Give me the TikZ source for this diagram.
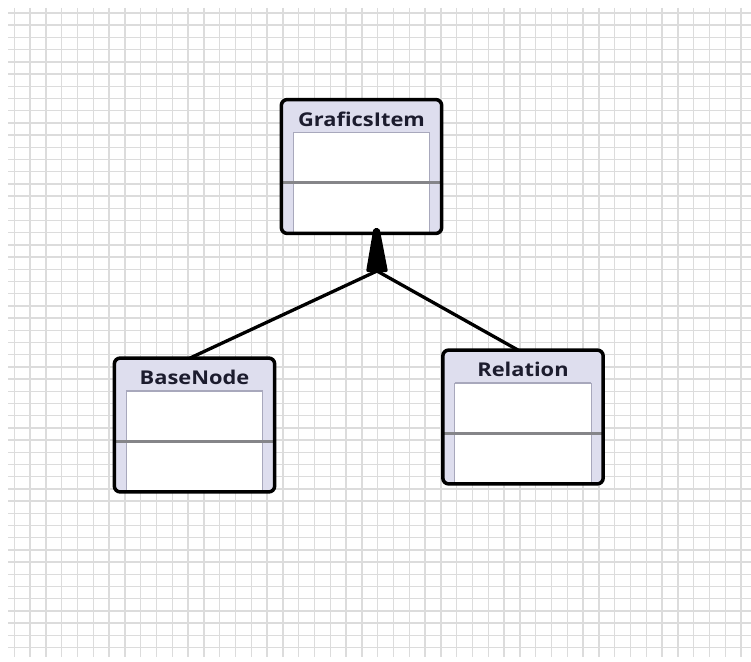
\documentclass[tikz,border=0pt]{standalone}
\usepackage{graphicx}
\usepackage{fontspec}
\setmainfont{Open Sans}
\definecolor{lavender}{HTML}{DEDEEE}
\definecolor{innerline}{HTML}{A8A8BC}
\definecolor{divcol}{HTML}{858589}
\definecolor{titlecol}{HTML}{1C1C2E}
\definecolor{gridcol}{HTML}{DCDCDC}
\newcommand\umlclass[3]{%
  \node[classouter] (#1) at (#2) {};
  \fill[white] ([xshift=12pt,yshift=-33pt]#1.north west) rectangle ([xshift=-12pt,yshift=1.5pt]#1.south east);
  \draw[innerbox] ([xshift=12pt,yshift=-33pt]#1.north west) -- ([xshift=12pt,yshift=1.5pt]#1.south west);
  \draw[innerbox] ([xshift=-12pt,yshift=-33pt]#1.north east) -- ([xshift=-12pt,yshift=1.5pt]#1.south east);
  \draw[innerbox] ([xshift=12pt,yshift=-33pt]#1.north west) -- ([xshift=-12pt,yshift=-33pt]#1.north east);
  \draw[divider] ([yshift=-83pt]#1.north west) -- ([yshift=-83pt]#1.north east);
  \draw[classborder] (#1.north west) rectangle (#1.south east);
  \node[classtitle] (#1-title) at ([yshift=-19.5pt]#1.north) {\scalebox{1.15}[1]{#3}};
}
\begin{document}
\begin{tikzpicture}[x=1pt,y=-1pt,
  gridline/.style={draw=gridcol, line width=1.4pt},
  classouter/.style={rectangle, fill=lavender, rounded corners=6pt, minimum width=160pt, minimum height=133.5pt, inner sep=0pt},
  classborder/.style={draw=black, line width=3.5pt, rounded corners=6pt},
  innerbox/.style={draw=innerline, line width=1.2pt},
  divider/.style={draw=divcol, line width=3pt},
  classtitle/.style={font=\bfseries\fontsize{19}{21}\selectfont, text=titlecol, inner sep=0pt},
  connector/.style={draw=black, line width=3.3pt},
  ]
  \useasboundingbox (0,0) rectangle (751,661);
  \fill[white] (0,0) rectangle (751,661);
  % grid
  \foreach \i in {0,...,46} {
    \draw[gridline] ({14.2+15.8*\i}, 8) -- ({14.2+15.8*\i}, 657);
  }
  \foreach \j in {0,...,52} {
    \draw[gridline] (8, {13+12.2*\j}) -- (751, {13+12.2*\j});
  }
  % classes
  \umlclass{gi}{361.5,166.5}{GraficsItem}
  \umlclass{bn}{194.5,425}{BaseNode}
  \umlclass{rel}{523,417}{Relation}
  % generalization
  \coordinate (join) at (377,271);
  \draw[connector] ([xshift=-4.5pt]bn.north) -- (join);
  \draw[connector] ([xshift=-5pt]rel.north) -- (join);
  \fill[black, rounded corners=2pt] (366,272) -- (373.5,228) -- (379.5,228) -- (388,272) -- cycle;
\end{tikzpicture}
\end{document}
